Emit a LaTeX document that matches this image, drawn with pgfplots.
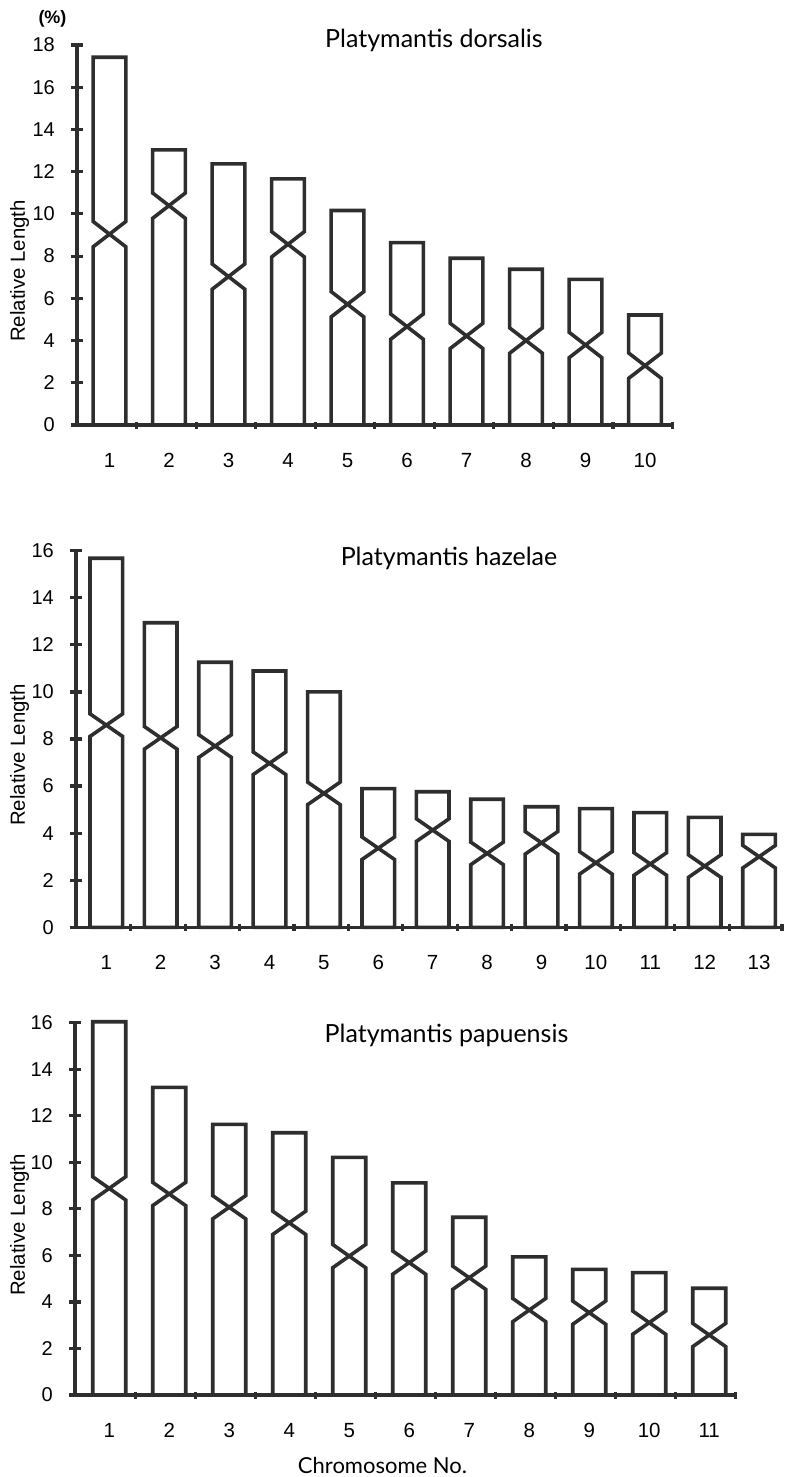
\documentclass[border=0pt]{standalone}
\usepackage{fontspec}
\setmainfont{Liberation Sans}
\newfontfamily\titlefont{Lato}
\usepackage{pgfplots}
\usepackage{pgfplotstable}
\pgfplotsset{compat=1.18}

\pgfplotstableread{
no top cen
1 17.42 9.04
2 13.03 10.39
3 12.37 7.03
4 11.66 8.56
5 10.16 5.72
6 8.64 4.66
7 7.90 4.22
8 7.38 4.00
9 6.90 3.79
10 5.21 2.81
}\dorsalis

\pgfplotstableread{
no top cen
1 15.68 8.59
2 12.94 8.05
3 11.26 7.70
4 10.89 6.97
5 10.00 5.69
6 5.89 3.36
7 5.76 4.13
8 5.44 3.14
9 5.12 3.59
10 5.04 2.74
11 4.87 2.69
12 4.67 2.60
13 3.95 3.00
}\hazelae

\pgfplotstableread{
no top cen
1 16.04 8.88
2 13.22 8.64
3 11.63 8.07
4 11.27 7.40
5 10.21 5.97
6 9.12 5.69
7 7.64 5.04
8 5.94 3.65
9 5.40 3.54
10 5.26 3.11
11 4.59 2.58
}\papuensis

\definecolor{ink}{HTML}{2E2E2E}
\pgfplotsset{
  chrom/.style={draw=ink, line width=3.6pt, mark=none, line join=miter},
  karyo/.style={
    scale only axis, anchor=south west, clip=false,
    axis x line=bottom, axis y line=left,
    every outer x axis line/.append style={-, line width=3.6pt, draw=ink},
    every outer y axis line/.append style={-, line width=3.6pt, draw=ink},
    every tick/.append style={line width=3.2pt, draw=ink},
    major tick length=12pt, minor tick length=7pt,
    every major x tick/.append style={draw=none},
    ymin=0,
    /pgf/number format/assume math mode=true,
    yticklabel style={font=\fontsize{20}{22}\selectfont, inner sep=0pt, xshift=-16pt},
    xticklabel style={font=\fontsize{20.5}{22}\selectfont, inner sep=0pt, anchor=base, yshift=-36pt},
  }
}

\newcommand{\chroms}[4]{%
  \pgfplotsforeachungrouped \i in {0,...,#2}{%
    \pgfplotstablegetelem{\i}{no}\of#1\pgfmathsetmacro\chx{\pgfplotsretval}%
    \pgfplotstablegetelem{\i}{top}\of#1\pgfmathsetmacro\cht{\pgfplotsretval}%
    \pgfplotstablegetelem{\i}{cen}\of#1\pgfmathsetmacro\chc{\pgfplotsretval}%
    \pgfmathsetmacro\chl{\chx-#3}\pgfmathsetmacro\chr{\chx+#3}%
    \pgfmathsetmacro\chlo{\chc-#4}\pgfmathsetmacro\chhi{\chc+#4}%
    \edef\chcmd{\noexpand\addplot[chrom] coordinates {(\chl,0) (\chl,\chlo) (\chr,\chhi) (\chr,\cht) (\chl,\cht) (\chl,\chhi) (\chr,\chlo) (\chr,0) (\chl,0)};}%
    \chcmd
  }%
}

\begin{document}
\begin{tikzpicture}
\path[use as bounding box] (0,0) rectangle (784pt,-1477pt);

% Panel 1
\begin{axis}[karyo,
  at={(77pt,-425pt)}, width=596pt, height=380pt,
  xmin=0.454, xmax=10.47, ymax=18,
  xtick={1,...,10}, ytick={0,2,...,18},
  minor xtick={1.46,2.46,3.46,4.46,5.46,6.46,7.46,8.46,9.46,10.46}]
\chroms{\dorsalis}{9}{0.275}{0.6}
\end{axis}

% Panel 2
\begin{axis}[karyo,
  at={(76pt,-927.3pt)}, width=708pt, height=376.6pt,
  xmin=0.443, xmax=13.458, ymax=16,
  xtick={1,...,13}, ytick={0,2,...,16},
  minor xtick={1.45,2.45,3.45,4.45,5.45,6.45,7.45,8.45,9.45,10.45,11.45,12.45,13.42}]
\chroms{\hazelae}{12}{0.3}{0.48}
\end{axis}

% Panel 3
\begin{axis}[karyo,
  at={(75pt,-1395pt)}, width=662pt, height=372.3pt,
  xmin=0.43, xmax=11.463, ymax=16,
  xtick={1,...,11}, ytick={0,2,...,16},
  minor xtick={1.44,2.44,3.44,4.44,5.44,6.44,7.44,8.44,9.44,10.44,11.44}]
\chroms{\papuensis}{10}{0.275}{0.5}
\end{axis}

% texts
\node[font=\bfseries\fontsize{18}{20}\selectfont] at (52.5pt,-19pt) {(\%)};
\node[font=\titlefont\fontsize{25}{28}\selectfont, anchor=base] at (434pt,-48pt) {Platymantis dorsalis};
\node[font=\titlefont\fontsize{25}{28}\selectfont, anchor=base] at (449pt,-565pt) {Platymantis hazelae};
\node[font=\titlefont\fontsize{25}{28}\selectfont, anchor=base] at (446.5pt,-1042pt) {Platymantis papuensis};
\node[font=\fontsize{20.4}{22}\selectfont, rotate=90] at (19.5pt,-271pt) {Relative Length};
\node[font=\fontsize{20.4}{22}\selectfont, rotate=90] at (19.5pt,-755pt) {Relative Length};
\node[font=\fontsize{20.4}{22}\selectfont, rotate=90] at (19.5pt,-1225pt) {Relative Length};
\node[font=\titlefont\fontsize{22}{24}\selectfont, anchor=base] at (382.5pt,-1473pt) {Chromosome No.};
\end{tikzpicture}
\end{document}
